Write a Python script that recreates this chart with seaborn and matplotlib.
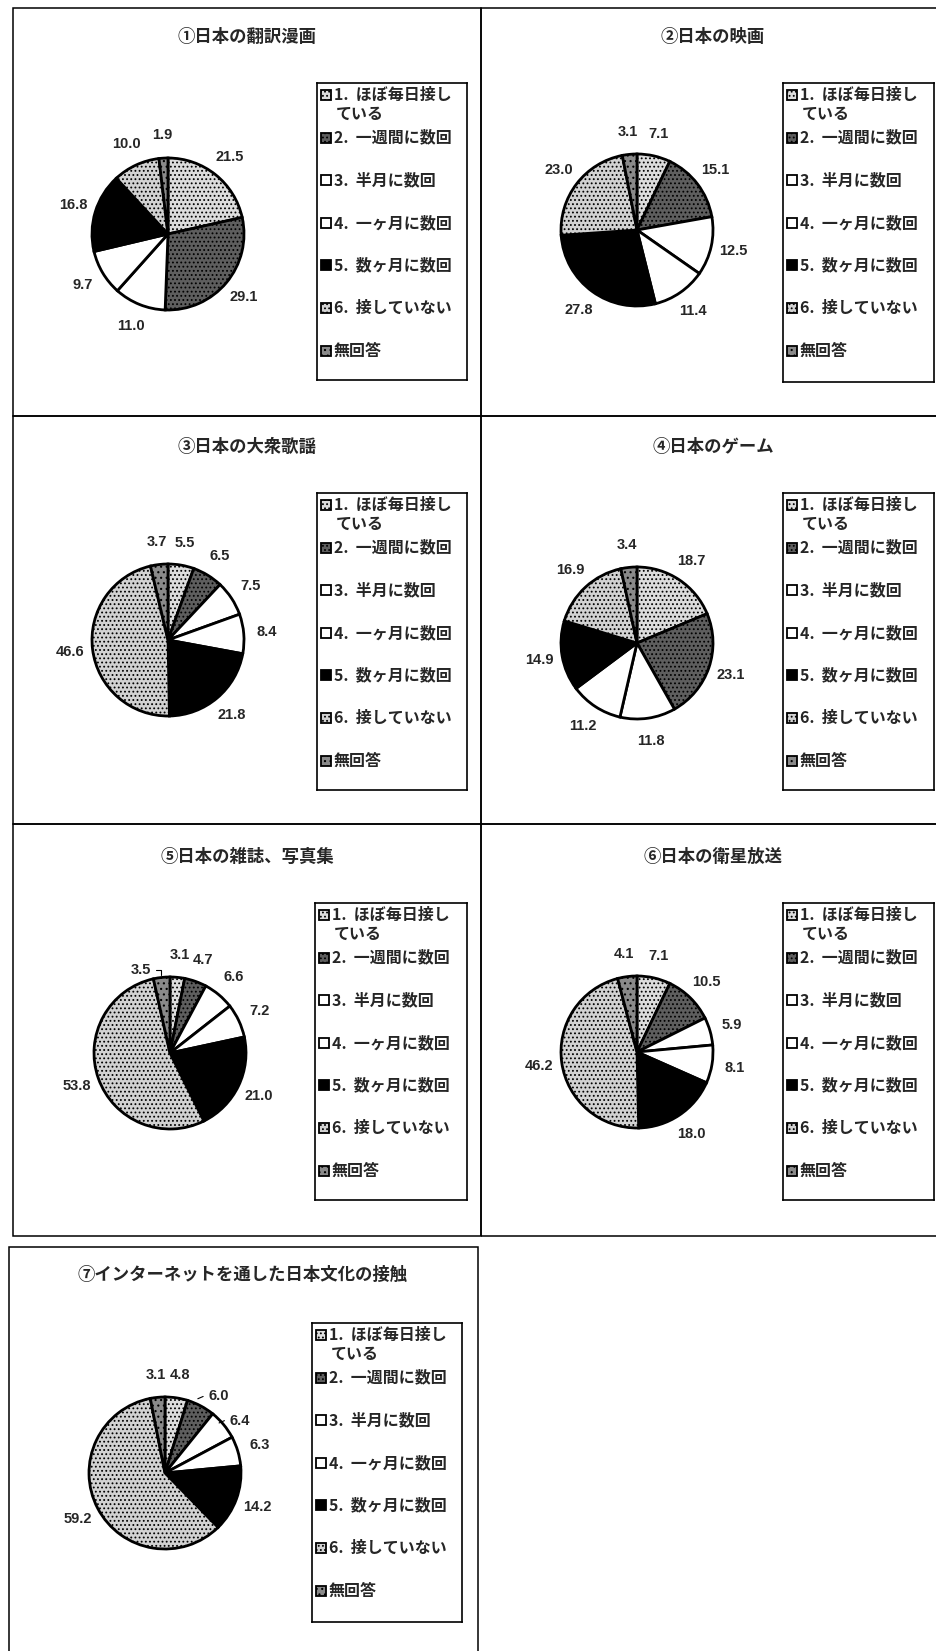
import matplotlib
matplotlib.use("Agg")
import matplotlib.pyplot as plt
from matplotlib.patches import Rectangle
import seaborn as sns

sns.set_theme(style="white")
plt.rcParams['font.family'] = ['Noto Sans CJK JP', 'DejaVu Sans']
plt.rcParams['hatch.linewidth'] = 0.8
plt.rcParams['hatch.color'] = '#222222'

# ---------------- data ----------------
categories = ["1.  ほぼ毎日接し\nている", "2.  一週間に数回", "3.  半月に数回",
              "4.  一ヶ月に数回", "5.  数ヶ月に数回", "6.  接していない", "無回答"]
titles = ["①日本の翻訳漫画", "②日本の映画", "③日本の大衆歌謡", "④日本のゲーム",
          "⑤日本の雑誌、写真集", "⑥日本の衛星放送", "⑦インターネットを通した日本文化の接触"]
manga = [21.5, 29.1, 11.0, 9.7, 16.8, 10.0, 1.9]
movies = [7.1, 15.1, 12.5, 11.4, 27.8, 23.0, 3.1]
songs = [5.5, 6.5, 7.5, 8.4, 21.8, 46.6, 3.7]
games = [18.7, 23.1, 11.8, 11.2, 14.9, 16.9, 3.4]
magazines = [3.1, 4.7, 6.6, 7.2, 21.0, 53.8, 3.5]
satellite = [7.1, 10.5, 5.9, 8.1, 18.0, 46.2, 4.1]
internet = [4.8, 6.0, 6.4, 6.3, 14.2, 59.2, 3.1]
series = [manga, movies, songs, games, magazines, satellite, internet]

# ---------------- styles ----------------
fills = ['#dcdcdc', '#5e5e5e', '#ffffff', '#ffffff', '#000000', '#d2d2d2', '#8a8a8a']
hatches = ['....', '....', None, None, None, '....', '...']

W, H = 937, 1651
fig = plt.figure(figsize=(W / 100, H / 100), dpi=100)
fig.patch.set_facecolor('white')


def frac(x0, y0, x1, y1):
    return [x0 / W, 1 - y1 / H, (x1 - x0) / W, (y1 - y0) / H]


# layout (pixels): panel box, title centre, pie centre, legend box
panels = [
    dict(box=(13, 8, 481, 416), title=(247, 37), pie=(168, 234), leg=(317, 83, 467, 380)),
    dict(box=(481, 8, 950, 416), title=(713, 37), pie=(637, 230), leg=(783, 83, 934, 382)),
    dict(box=(13, 416, 481, 824), title=(247, 447), pie=(168, 640), leg=(317, 493, 467, 790)),
    dict(box=(481, 416, 950, 824), title=(713, 447), pie=(637, 643), leg=(783, 493, 934, 790)),
    dict(box=(13, 824, 481, 1236), title=(247, 857), pie=(170, 1053), leg=(315, 903, 467, 1200)),
    dict(box=(481, 824, 950, 1236), title=(713, 857), pie=(637, 1052), leg=(783, 903, 934, 1200)),
    dict(box=(9, 1247, 478, 1665), title=(243, 1275), pie=(165, 1473), leg=(312, 1323, 462, 1622)),
]
R_PIE = 76
LIM = 1.6
# small label nudges (in pie radii) for crowded labels
nudges = {(4, 6): (-0.24, -0.2), (6, 1): (0.09, -0.14), (6, 2): (-0.02, -0.14)}
# short leader lines drawn for some labels (panel, slice)
leaders = {(4, 6), (6, 1), (6, 2)}

for i, (p, vals) in enumerate(zip(panels, series)):
    x0, y0, x1, y1 = p['box']
    fig.add_artist(Rectangle((x0 / W, 1 - y1 / H), (x1 - x0) / W, (y1 - y0) / H,
                             transform=fig.transFigure, fill=False, ec='black', lw=1.1))
    tx, ty = p['title']
    fig.text(tx / W, 1 - ty / H, titles[i], ha='center', va='center',
             fontsize=12.5, fontweight='bold')

    cx, cy = p['pie']
    half = R_PIE * LIM
    ax = fig.add_axes(frac(cx - half, cy - half, cx + half, cy + half))
    wedges, texts = ax.pie(vals, colors=fills, startangle=90, counterclock=False,
                           radius=1, labels=[f"{v:.1f}" for v in vals], labeldistance=1.3,
                           wedgeprops=dict(edgecolor='black', linewidth=2.0),
                           textprops=dict(fontsize=10.5, fontweight='bold',
                                          family=['Liberation Sans', 'DejaVu Sans']))
    for w, h in zip(wedges, hatches):
        if h:
            w.set_hatch(h)
    for j, t in enumerate(texts):
        t.set_ha('center')
        t.set_va('center')
        if (i, j) in nudges:
            dx, dy = nudges[(i, j)]
            tx_, ty_ = t.get_position()
            t.set_position((tx_ + dx, ty_ + dy))
        if (i, j) in leaders:
            tx_, ty_ = t.get_position()
            if i == 4:
                ax.plot([tx_ + 0.2, tx_ + 0.26, tx_ + 0.26], [ty_, ty_, ty_ - 0.07],
                        color='black', lw=0.8)
            else:
                ax.plot([tx_ - 0.27, tx_ - 0.2], [ty_ - 0.03, ty_], color='black', lw=0.8)
    ax.set_xlim(-LIM, LIM)
    ax.set_ylim(-LIM, LIM)
    ax.set_aspect('equal')
    ax.axis('off')
    ax.patch.set_alpha(0)

    # legend box
    lx0, ly0, lx1, ly1 = p['leg']
    lax = fig.add_axes(frac(lx0, ly0, lx1, ly1))
    lw_, lh_ = lx1 - lx0, ly1 - ly0
    lax.set_xlim(0, lw_)
    lax.set_ylim(lh_, 0)
    lax.set_xticks([])
    lax.set_yticks([])
    for s in lax.spines.values():
        s.set_visible(True)
        s.set_color('black')
        s.set_linewidth(1.2)
    for k, (lab, fc, hh) in enumerate(zip(categories, fills, hatches)):
        yk = 12 + 42.6 * k
        lax.add_patch(Rectangle((4, yk - 5), 10, 10, fc=fc, ec='black', lw=1.3,
                                hatch=hh))
        for m, line in enumerate(lab.split('\n')):
            lax.text(17 if m == 0 else 19, yk + 19 * m, line, ha='left', va='center',
                     fontsize=11.5, fontweight='bold')

fig.savefig('out.png', dpi=100, facecolor='white')
